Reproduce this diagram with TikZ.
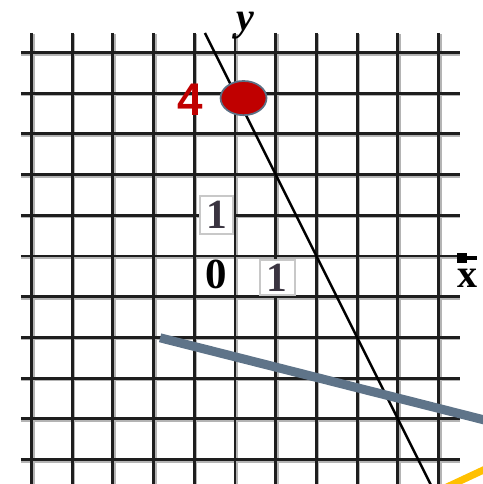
\documentclass[tikz,border=0pt]{standalone}
\usepackage{fontspec}
\setmainfont{Liberation Serif}
\newfontfamily\labelsans{Liberation Sans}
\usetikzlibrary{arrows.meta, shapes.geometric}
\definecolor{gridLine}{HTML}{1E1E1E}
\definecolor{gridShadow}{HTML}{B4B4B4}
\definecolor{lineSlate}{HTML}{5F7489}
\definecolor{lineGold}{HTML}{FFC000}
\definecolor{pointRed}{HTML}{C00000}
\definecolor{pointBorder}{HTML}{5B7085}
\definecolor{tickBox}{HTML}{C8C8C8}
\definecolor{tickText}{HTML}{3A3440}
\tikzset{
  gridrule/.style={draw=gridLine, line width=2pt},
  gridshade/.style={draw=gridShadow, line width=2pt},
  graphline/.style={draw=black, line width=1.7pt},
  slateline/.style={draw=lineSlate, line width=6.3pt},
  goldline/.style={draw=lineGold, line width=5pt},
  tickbox/.style={draw=tickBox, fill=white, line width=1pt, inner sep=0pt,
    font=\fontsize{29}{29}\selectfont\bfseries, text=tickText},
  ticknum/.style={font=\fontsize{30}{30}\selectfont\bfseries, text=black, inner sep=0pt},
  axislabel/.style={font=\fontsize{28}{28}\selectfont\bfseries, inner sep=0pt},
  pointdot/.style={ellipse, draw=pointBorder, fill=pointRed, line width=1.2pt,
    minimum width=1.13cm, minimum height=0.84cm, inner sep=0pt},
  pointlabel/.style={font=\labelsans\fontsize{32}{32}\selectfont\bfseries,
    text=pointRed, inner sep=0pt},
}

\begin{document}
\begin{tikzpicture}

  \useasboundingbox (-5.774,-5.602) rectangle (6.093,6.290);
  \clip (-5.774,-5.602) rectangle (6.093,6.290);

  % === Grid ===
  \foreach \k in {-5,...,5} {
    \draw[gridshade] (-5.26,\k-0.04) -- (5.53,\k-0.04);
    \draw[gridshade] (\k+0.04,5.46) -- (\k+0.04,-5.8);
  }
  \foreach \k in {-5,...,5} {
    \draw[gridrule] (-5.26,\k) -- (5.53,\k);
    \draw[gridrule] (\k,5.48) -- (\k,-5.8);
  }

  % === Axis labels ===
  \node[axislabel, font=\fontsize{28}{28}\selectfont\bfseries\itshape] (ylab) at (0.25,5.66) {y};
  \node[axislabel] (xlab) at (5.72,-0.55) {x};
  \fill (5.46,0.07) rectangle (5.70,-0.18);
  \fill (5.70,0.0) rectangle (5.95,-0.10);

  % === Tick labels ===
  \node[ticknum] (zero) at (-0.47,-0.45) {0};
  \node[tickbox, minimum width=0.81cm, minimum height=0.93cm] (ytick) at (-0.45,1.01) {1};
  \node[tickbox, minimum width=0.86cm, minimum height=0.86cm] (xtick) at (1.04,-0.53) {1};

  % === Lines ===
  \coordinate (bTop) at (-0.74,5.48);
  \coordinate (bBot) at (5.0,-6.0);
  \draw[graphline] (bTop) -- (bBot);

  \coordinate (sStart) at (-1.84,-2.01);
  \coordinate (sEnd) at (7.0,-4.25);
  \draw[slateline] (sStart) -- (sEnd);

  \coordinate (gStart) at (5.2,-5.68);
  \coordinate (gEnd) at (6.4,-5.12);
  \draw[goldline] (gStart) -- (gEnd);

  % === Point on the y-axis ===
  \node[pointdot] (pt) at (0.21,3.88) {};
  \node[pointlabel] (ptlab) at (-1.1,3.83) {4};

\end{tikzpicture}
\end{document}
